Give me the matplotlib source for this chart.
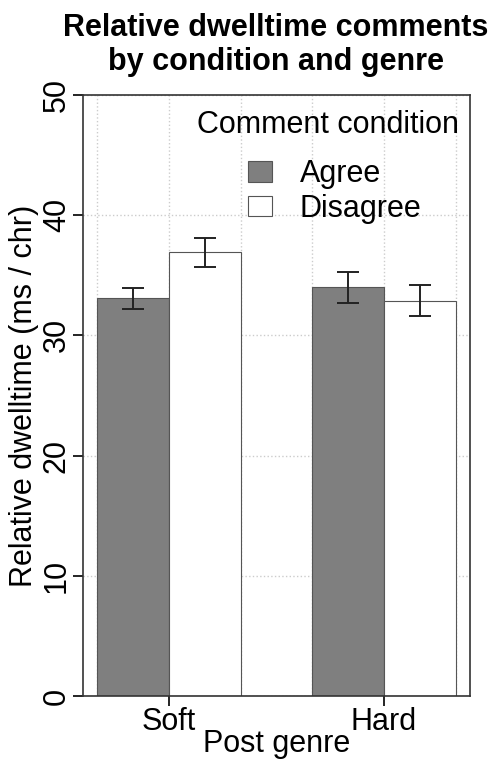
import numpy as np
import matplotlib.pyplot as plt

plt.rcParams['font.family'] = ['Liberation Sans', 'DejaVu Sans']

genres = ['Soft', 'Hard']
conditions = ['Agree', 'Disagree']
agree_means = [33.1, 34.0]
disagree_means = [36.9, 32.9]
agree_err = [0.87, 1.3]
disagree_err = [1.17, 1.3]

fig = plt.figure(figsize=(4.92, 7.59), dpi=100)
ax = fig.add_axes([83 / 492, 1 - 696 / 759, 387 / 492, 601 / 759])

# R style barplot(beside=TRUE): bars of width 1, space between groups
group_centers = np.array([2, 5])
x_agree = group_centers - 0.5
x_dis = group_centers + 0.5

ax.bar(x_agree, agree_means, width=1, color='#7f7f7f', edgecolor='#555555',
       linewidth=0.8, label=conditions[0], zorder=2)
ax.bar(x_dis, disagree_means, width=1, color='white', edgecolor='#555555',
       linewidth=0.8, label=conditions[1], zorder=2)
ax.errorbar(x_agree, agree_means, yerr=agree_err, fmt='none', ecolor='#222222',
            elinewidth=1.4, capsize=8, capthick=1.4, zorder=3)
ax.errorbar(x_dis, disagree_means, yerr=disagree_err, fmt='none', ecolor='#222222',
            elinewidth=1.4, capsize=8, capthick=1.4, zorder=3)

ax.set_xlim(0.8, 6.2)
ax.set_ylim(0, 50)
ax.set_xticks(group_centers)
ax.set_xticklabels(genres)
ax.set_xticks([1, 3, 4, 6], minor=True)
ax.set_yticks(np.arange(0, 51, 10))
ax.tick_params(axis='both', which='major', labelsize=22, length=7, width=1.2, pad=1)
ax.tick_params(axis='x', which='minor', length=0)
for lab in ax.get_yticklabels():
    lab.set_rotation(90)
    lab.set_va('center')

ax.set_axisbelow(True)
ax.grid(which='both', color='#cccccc', linestyle=':', linewidth=1.0)
for s in ax.spines.values():
    s.set_linewidth(1.2)
    s.set_color('#333333')

ax.set_xlabel('Post genre', fontsize=22, labelpad=-6)
ax.set_ylabel('Relative dwelltime (ms / chr)', fontsize=22, labelpad=2)

fig.text(276 / 492, 1 - 45 / 759, 'Relative dwelltime comments\nby condition and genre',
         ha='center', va='center', fontsize=22, fontweight='bold', linespacing=1.15)

ax.text(0.972, 0.95, 'Comment condition', transform=ax.transAxes,
        ha='right', va='center', fontsize=22)
leg = ax.legend(loc='upper left', bbox_to_anchor=(0.426, 0.893), frameon=False,
                fontsize=22, handlelength=0.8, handleheight=0.65, handletextpad=0.9,
                labelspacing=0.15, borderpad=0, borderaxespad=0)

fig.savefig('out.png', dpi=100)
